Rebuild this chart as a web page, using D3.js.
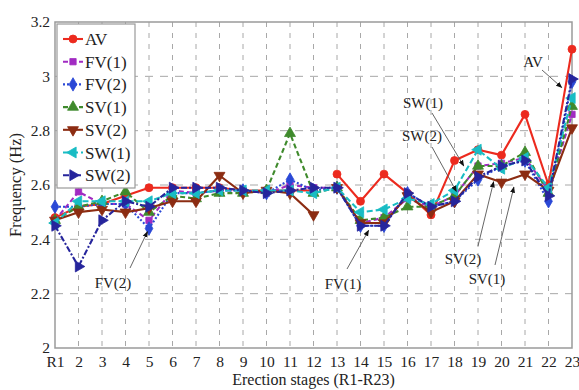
<!DOCTYPE html>
<html>
<head>
<meta charset="utf-8">
<script src="https://cdn.jsdelivr.net/npm/d3@7"></script>
<style>
  html, body { margin: 0; padding: 0; background: #fff; }
  svg { display: block; }
  text { font-family: "Liberation Serif", "Times New Roman", serif; fill: #222; }
</style>
</head>
<body>
<svg id="chart" width="579" height="390"></svg>
<script>
// Erection stages
const stages = ["R1","2","3","4","5","6","7","8","9","10","11","12","13","14","15","16","17","18","19","20","21","22","23"];

// Frequencies (Hz) per stage
const AV   = [2.48,2.52,2.53,2.56,2.59,2.59,2.59,2.59,2.58,2.58,2.58,2.58,2.64,2.54,2.64,2.57,2.49,2.69,2.73,2.71,2.86,2.60,3.10];
const FV1  = [2.47,2.575,2.53,2.53,2.47,2.58,2.57,2.58,2.58,2.57,2.60,2.59,2.59,2.46,2.48,2.55,2.52,2.56,2.67,2.68,2.70,2.58,2.86];
const FV2  = [2.52,2.52,2.53,2.53,2.44,2.57,2.57,2.58,2.58,2.57,2.62,2.58,2.59,2.45,2.45,2.57,2.52,2.54,2.62,2.67,2.69,2.54,2.98];
const SV1  = [2.47,2.52,2.54,2.575,2.50,2.56,2.55,2.57,2.57,2.58,2.79,2.57,2.59,2.47,2.48,2.52,2.52,2.56,2.67,2.67,2.72,2.57,2.89];
const SV2  = [2.47,2.50,2.51,2.50,2.515,2.54,2.54,2.635,2.57,2.58,2.57,2.49,2.59,2.46,2.46,2.56,2.50,2.54,2.64,2.61,2.64,2.58,2.81];
const SW1  = [2.46,2.54,2.54,2.54,2.54,2.57,2.57,2.58,2.58,2.58,2.58,2.57,2.59,2.50,2.51,2.55,2.53,2.58,2.73,2.66,2.70,2.59,2.92];
const SW2  = [2.45,2.30,2.47,2.54,2.52,2.59,2.59,2.59,2.58,2.57,2.58,2.59,2.59,2.45,2.45,2.57,2.52,2.54,2.63,2.67,2.69,2.56,2.99];

const seriesNames = ["AV","FV(1)","FV(2)","SV(1)","SV(2)","SW(1)","SW(2)"];
const seriesValues = [AV, FV1, FV2, SV1, SV2, SW1, SW2];

// Series whose curve is interrupted between stages 12 and 13
const brokenSeries = ["AV","SV(2)"];
const breakStage = "12";

const yTicks = [2, 2.2, 2.4, 2.6, 2.8, 3, 3.2];

// Callout labels: text, text position, arrow start, arrow target (stage, value)
const callouts = [
  { text: "FV(2)", tx: 113, ty: 288, from: [130, 268], stage: "5",  value: 2.44 },
  { text: "FV(1)", tx: 343, ty: 289, from: [347, 269], stage: "14", value: 2.46, dx: 10, dy: 4 },
  { text: "SW(1)", tx: 423, ty: 108, from: [432, 113], stage: "18", value: 2.58, dx: 12, dy: -20 },
  { text: "SW(2)", tx: 422, ty: 141, from: [432, 147], stage: "18", value: 2.54, dx: 4, dy: -6 },
  { text: "SV(2)", tx: 463, ty: 264, from: [478, 246], stage: "19", value: 2.64, dx: 17, dy: 2 },
  { text: "SV(1)", tx: 487, ty: 284, from: [495, 265], stage: "20", value: 2.61, dx: 14, dy: -2 },
  { text: "AV",    tx: 533, ty: 67,  from: [542, 70],  stage: "22", value: 2.60, dx: 15, dy: -96 }
];

// ---- styles -------------------------------------------------------------
const styles = {
  "AV":    { color: "#ec2a1e", dash: null,      symbol: d3.symbolCircle,   rot: 0,   size: 50 },
  "FV(1)": { color: "#a12bc2", dash: "5,3",     symbol: d3.symbolSquare,   rot: 0,   size: 40 },
  "FV(2)": { color: "#2a48d6", dash: "2,2",     symbol: d3.symbolDiamond,  rot: 0,   size: 52 },
  "SV(1)": { color: "#3f8a2c", dash: "5,3",     symbol: d3.symbolTriangle, rot: 0,   size: 52 },
  "SV(2)": { color: "#8c2c12", dash: null,      symbol: d3.symbolTriangle, rot: 180, size: 52 },
  "SW(1)": { color: "#19bcc4", dash: "6,3",     symbol: d3.symbolTriangle, rot: -90, size: 52 },
  "SW(2)": { color: "#26259c", dash: "6,2,2,2", symbol: d3.symbolTriangle, rot: 90,  size: 52 }
};

const svg = d3.select("#chart");
const plotLeft = 55, plotRight = 572, plotTop = 22, plotBottom = 348;

const x = d3.scalePoint().domain(stages).range([plotLeft, plotRight]);
const y = d3.scaleLinear().domain([2, 3.2]).range([plotBottom, plotTop]);

// grid
const grid = svg.append("g").attr("stroke", "#a8a8a8").attr("stroke-width", 1);
grid.selectAll("line.v").data(stages.slice(1, -1)).join("line")
  .attr("x1", d => x(d)).attr("x2", d => x(d))
  .attr("y1", plotTop).attr("y2", plotBottom)
  .attr("stroke-dasharray", "5,6");
grid.selectAll("line.h").data(yTicks.slice(1, -1)).join("line")
  .attr("x1", plotLeft).attr("x2", plotRight)
  .attr("y1", d => y(d)).attr("y2", d => y(d))
  .attr("stroke-dasharray", "8,7");

// frame
svg.append("rect")
  .attr("x", plotLeft).attr("y", plotTop)
  .attr("width", plotRight - plotLeft).attr("height", plotBottom - plotTop)
  .attr("fill", "none").attr("stroke", "#9a9a9a").attr("stroke-width", 1.5);

// axes
const yAxis = d3.axisLeft(y).tickValues(yTicks).tickSize(0).tickPadding(5)
  .tickFormat(d => d3.format("~g")(d));
const gy = svg.append("g").attr("transform", `translate(${plotLeft},0)`).call(yAxis);
gy.select(".domain").remove();
gy.selectAll("text").attr("font-size", 15.5).attr("fill", "#1a1a1a")
  .attr("font-family", "Liberation Serif, serif");

const xAxis = d3.axisBottom(x).tickSize(0).tickPadding(8);
const gx = svg.append("g").attr("transform", `translate(0,${plotBottom})`).call(xAxis);
gx.select(".domain").remove();
gx.selectAll("text").attr("font-size", 15.5).attr("fill", "#1a1a1a")
  .attr("font-family", "Liberation Serif, serif");

// axis titles
svg.append("text")
  .attr("x", (plotLeft + plotRight) / 2).attr("y", 385)
  .attr("text-anchor", "middle").attr("font-size", 16)
  .text("Erection stages (R1-R23)");
svg.append("text")
  .attr("transform", `translate(21,185) rotate(-90)`)
  .attr("text-anchor", "middle").attr("font-size", 16.5)
  .text("Frequency (Hz)");

// series
const line = d3.line().x(d => x(d.stage)).y(d => y(d.value));
const plot = svg.append("g");

seriesNames.forEach((name, i) => {
  const st = styles[name];
  const pts = stages.map((s, j) => ({ stage: s, value: seriesValues[i][j] }));
  let runs = [pts];
  if (brokenSeries.includes(name)) {
    const k = stages.indexOf(breakStage);
    runs = [pts.slice(0, k + 1), pts.slice(k + 1)];
  }
  const g = plot.append("g");
  runs.forEach(run => {
    g.append("path").datum(run)
      .attr("d", line)
      .attr("fill", "none")
      .attr("stroke", st.color)
      .attr("stroke-width", 2.1)
      .attr("stroke-linejoin", "round")
      .attr("stroke-dasharray", st.dash);
  });
  g.selectAll("path.m").data(pts).join("path")
    .attr("d", d3.symbol().type(st.symbol).size(st.size))
    .attr("transform", d => `translate(${x(d.stage)},${y(d.value)}) rotate(${st.rot})`)
    .attr("fill", st.color).attr("stroke", st.color).attr("stroke-width", 0.8);
});

// legend
const lg = svg.append("g");
lg.append("rect")
  .attr("x", 57).attr("y", 24).attr("width", 78).attr("height", 164)
  .attr("fill", "#fff").attr("stroke", "#9a9a9a").attr("stroke-width", 1.2);
seriesNames.forEach((name, i) => {
  const st = styles[name];
  const cy = 39 + i * 22.7;
  lg.append("line")
    .attr("x1", 63).attr("x2", 83).attr("y1", cy).attr("y2", cy)
    .attr("stroke", st.color).attr("stroke-width", 2.1)
    .attr("stroke-dasharray", st.dash);
  lg.append("path")
    .attr("d", d3.symbol().type(st.symbol).size(st.size)())
    .attr("transform", `translate(73,${cy}) rotate(${st.rot})`)
    .attr("fill", st.color).attr("stroke", st.color).attr("stroke-width", 0.8);
  lg.append("text")
    .attr("x", 85).attr("y", cy + 6)
    .attr("font-size", 17).attr("fill", "#1a1a1a")
    .text(name);
});

// callouts with arrows
const defs = svg.append("defs");
defs.append("marker")
  .attr("id", "arrowhead").attr("viewBox", "0 0 10 10")
  .attr("refX", 9).attr("refY", 5)
  .attr("markerWidth", 7).attr("markerHeight", 7)
  .attr("orient", "auto-start-reverse")
  .append("path").attr("d", "M0,1 L10,5 L0,9 Z").attr("fill", "#111");

callouts.forEach(c => {
  const tx = x(c.stage) + (c.dx || 0);
  const ty = y(c.value) + (c.dy || 0);
  const ex = c.from[0] + (tx - c.from[0]) * 0.92;
  const ey = c.from[1] + (ty - c.from[1]) * 0.92;
  svg.append("line")
    .attr("x1", c.from[0]).attr("y1", c.from[1])
    .attr("x2", ex).attr("y2", ey)
    .attr("stroke", "#555").attr("stroke-width", 0.9)
    .attr("marker-end", "url(#arrowhead)");
  svg.append("text")
    .attr("x", c.tx).attr("y", c.ty)
    .attr("text-anchor", "middle").attr("font-size", 15)
    .attr("fill", "#333")
    .text(c.text);
});
</script>
</body>
</html>
